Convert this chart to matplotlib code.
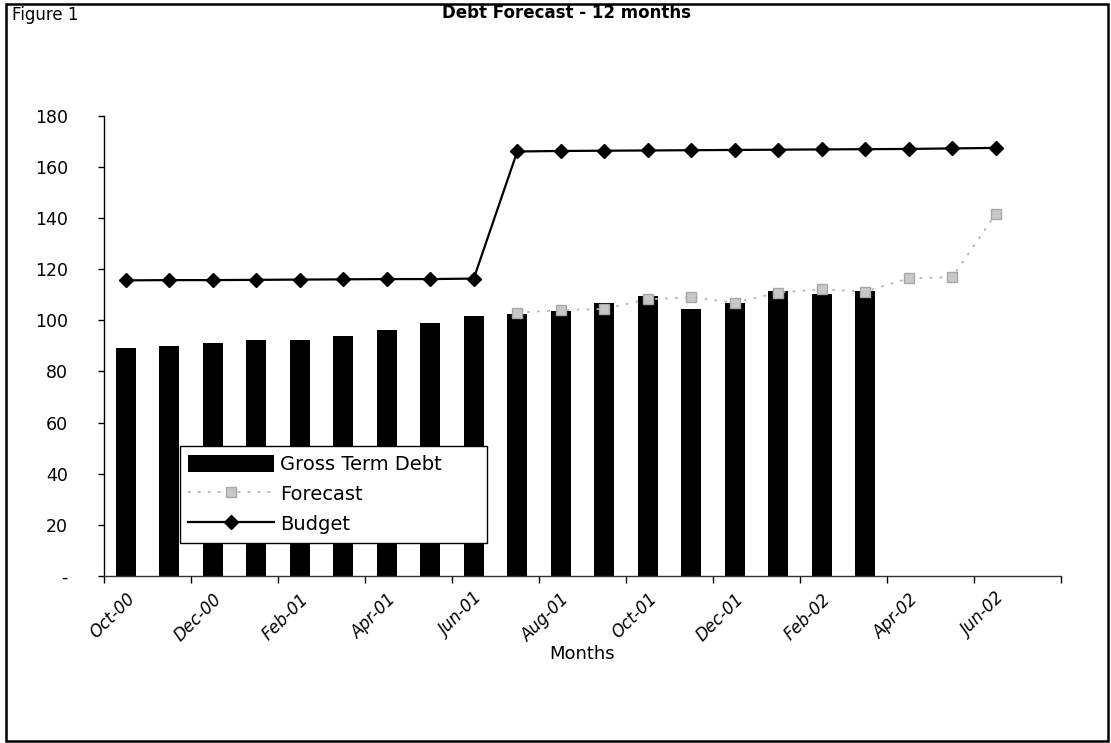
import matplotlib
matplotlib.use("Agg")
import matplotlib.pyplot as plt
from matplotlib.lines import Line2D
from matplotlib.patches import Rectangle

# months on the category axis (last one left empty)
months = ["Oct-00", "Nov-00", "Dec-00", "Jan-01", "Feb-01", "Mar-01", "Apr-01", "May-01",
          "Jun-01", "Jul-01", "Aug-01", "Sep-01", "Oct-01", "Nov-01", "Dec-01", "Jan-02",
          "Feb-02", "Mar-02", "Apr-02", "May-02", "Jun-02", "Jul-02"]
gross_debt = [89.0, 90.0, 91.2, 92.2, 92.3, 93.9, 96.1, 99.1, 101.7, 102.3, 103.8, 106.6,
              109.5, 104.3, 106.9, 111.6, 110.3, 111.6]
forecast_start = 9  # Jul-01
forecast = [103.0, 104.0, 104.4, 108.2, 109.0, 106.9, 110.8, 112.1, 111.2, 116.4, 116.8, 141.6]
budget = [115.6, 115.7, 115.7, 115.8, 115.9, 116.0, 116.1, 116.1, 116.3,
          166.0, 166.2, 166.3, 166.4, 166.5, 166.6, 166.7, 166.8, 166.9, 167.0, 167.2, 167.4]
yticks = [0, 20, 40, 60, 80, 100, 120, 140, 160, 180]
ytick_labels = ["-", "20", "40", "60", "80", "100", "120", "140", "160", "180"]

plt.rcParams["font.family"] = ["DejaVu Sans"]
fig = plt.figure(figsize=(11.11, 7.43), dpi=100)
ax = fig.add_axes([0.0936, 0.2248, 0.8614, 0.6195])

x_bar = list(range(len(gross_debt)))
x_fc = list(range(forecast_start, forecast_start + len(forecast)))
x_bud = list(range(len(budget)))

fc_style = dict(color="#b5b5b5", linestyle=(0, (1.5, 4)), linewidth=1.3, marker="s",
                markersize=7.5, markerfacecolor="#c8c8c8", markeredgecolor="#a8a8a8")
bud_style = dict(color="black", linewidth=1.6, marker="D", markersize=7.5,
                 markerfacecolor="black", markeredgecolor="black")

ax.bar(x_bar, gross_debt, width=0.47, color="black", zorder=2)
ax.plot(x_fc, forecast, zorder=3, **fc_style)
ax.plot(x_bud, budget, zorder=4, **bud_style)

ax.set_xlim(-0.5, len(months) - 0.5)
ax.set_ylim(0, 180)
ax.set_yticks(yticks)
ax.set_yticklabels(ytick_labels, fontsize=12.5)
ax.yaxis.set_tick_params(direction="out", length=4, width=1, pad=22)

# tick marks sit between categories, labels on every second month
ax.set_xticks([i - 0.5 for i in range(0, len(months) + 1, 2)])
ax.set_xticklabels([])
ax.xaxis.set_tick_params(direction="out", length=5, width=1)
ax.set_xticks(list(range(0, len(months), 2)), minor=True)
ax.set_xticklabels(months[::2], minor=True, rotation=45, ha="right",
                   rotation_mode="anchor", fontsize=12, style="italic")
ax.xaxis.set_tick_params(which="minor", length=0, pad=10)
ax.set_xlabel("Months", fontsize=13, labelpad=0)

for s in ["top", "right"]:
    ax.spines[s].set_visible(False)
ax.spines["left"].set_linewidth(1.0)
ax.spines["bottom"].set_linewidth(1.0)
ax.spines["bottom"].set_color("#333333")

handles = [Rectangle((0, 0), 1, 1, facecolor="black"),
           Line2D([], [], **fc_style),
           Line2D([], [], **bud_style)]
leg = ax.legend(handles, ["Gross Term Debt", "Forecast", "Budget"], loc="lower left",
                bbox_to_anchor=(0.079, 0.072, 0.321, 0.22), mode="expand", borderaxespad=0,
                fontsize=14, handlelength=4.4, handleheight=1.0, handletextpad=0.3,
                labelspacing=0.55, borderpad=0.45, fancybox=False, framealpha=1,
                edgecolor="black")
leg.get_frame().set_linewidth(1.0)
leg.set_zorder(5)

fig.text(0.51, 0.982, "Debt Forecast - 12 months", ha="center", va="center",
         fontsize=12, fontweight="bold")
fig.text(0.011, 0.98, "Figure 1", ha="left", va="center", fontsize=12)
fig.patches.append(Rectangle((0.005, 0.003), 0.992, 0.992, transform=fig.transFigure,
                             fill=False, edgecolor="black", linewidth=1.8))

fig.savefig("out.png", dpi=100)
